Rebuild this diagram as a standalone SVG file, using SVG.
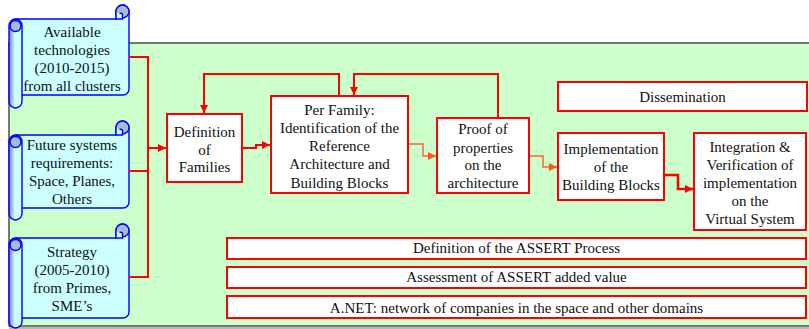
<svg xmlns="http://www.w3.org/2000/svg" width="809" height="329" viewBox="0 0 809 329">
  <defs>
    <linearGradient id="rollShade" x1="0" y1="0" x2="1" y2="0">
      <stop offset="0" stop-color="#7a7ae0"/>
      <stop offset="0.45" stop-color="#ccffff"/>
      <stop offset="1" stop-color="#ccffff"/>
    </linearGradient>
    <marker id="arrowRed" viewBox="0 0 10 10" refX="10" refY="5" markerWidth="9" markerHeight="8" markerUnits="userSpaceOnUse" orient="auto">
      <path d="M0,0 L10,5 L0,10 Z" fill="#ff0000"/>
    </marker>
    <marker id="arrowOrange" viewBox="0 0 10 10" refX="10" refY="5" markerWidth="9" markerHeight="8" markerUnits="userSpaceOnUse" orient="auto">
      <path d="M0,0 L10,5 L0,10 Z" fill="#ff5522"/>
    </marker>
  </defs>
  <style>
    .panel { fill: #ccffcc; stroke: #333333; stroke-width: 1.3; }
    .paper { fill: #ccffff; stroke: #0000ff; stroke-width: 1.4; }
    .roll { fill: url(#rollShade); stroke: #0000ff; stroke-width: 1.4; }
    .curl { fill: #a8bcd0; stroke: #0000ff; stroke-width: 1.4; }
    .box { fill: #ffffff; stroke: #ff0000; stroke-width: 2; }
    .wire { fill: none; stroke: #ff0000; stroke-width: 2; }
    .wire-thick { fill: none; stroke: #ff0000; stroke-width: 2.6; }
    .wire-soft { fill: none; stroke: #ff6633; stroke-width: 1.5; }
    text { font-family: "Liberation Serif", "Times New Roman", serif; font-size: 15px; fill: #111111; text-anchor: middle; }
  </style>

  <rect x="0" y="0" width="809" height="329" fill="#ffffff"/>

  <!-- green working area -->
  <rect class="panel" x="9" y="43" width="820" height="283"/>
  <rect x="9" y="327" width="800" height="2" fill="#b8b8b8"/>

  <!-- input scrolls -->
  <g id="scroll-technologies">
    <path class="paper" d="M15.5,19 H116 V11.5 A6.5,6.5 0 0 1 129,11.5 V89 A6,6 0 0 1 123,95 H15.5 Z"/>
    <circle class="curl" cx="122.5" cy="11.5" r="6.5"/>
    <path class="paper" d="M116,11.5 V19 H122.5 V14 A3,3 0 0 0 119.5,13.5"/>
    <rect class="roll" x="9" y="19" width="13" height="89" rx="6.5"/>
    <circle class="curl" cx="15.5" cy="26" r="5.5"/>
    <text x="72" y="37">Available</text>
    <text x="72" y="55">technologies</text>
    <text x="72" y="73">(2010-2015)</text>
    <text x="72" y="91">from all clusters</text>
  </g>

  <g id="scroll-requirements">
    <path class="paper" d="M15.5,135 H116 V127.5 A6.5,6.5 0 0 1 129,127.5 V202 A6,6 0 0 1 123,208 H15.5 Z"/>
    <circle class="curl" cx="122.5" cy="127.5" r="6.5"/>
    <path class="paper" d="M116,127.5 V135 H122.5 V130 A3,3 0 0 0 119.5,129.5"/>
    <rect class="roll" x="9" y="135" width="13" height="85" rx="6.5"/>
    <circle class="curl" cx="15.5" cy="142" r="5.5"/>
    <text x="72" y="150">Future systems</text>
    <text x="72" y="168">requirements:</text>
    <text x="72" y="186">Space, Planes,</text>
    <text x="72" y="204">Others</text>
  </g>

  <g id="scroll-strategy">
    <path class="paper" d="M15.5,238 H116 V230.5 A6.5,6.5 0 0 1 129,230.5 V312 A6,6 0 0 1 123,318 H15.5 Z"/>
    <circle class="curl" cx="122.5" cy="230.5" r="6.5"/>
    <path class="paper" d="M116,230.5 V238 H122.5 V233 A3,3 0 0 0 119.5,232.5"/>
    <rect class="roll" x="9" y="238" width="13" height="90" rx="6.5"/>
    <circle class="curl" cx="15.5" cy="245" r="5.5"/>
    <text x="72" y="257">Strategy</text>
    <text x="72" y="275">(2005-2010)</text>
    <text x="72" y="293">from Primes,</text>
    <text x="72" y="311">SME’s</text>
  </g>

  <!-- connectors -->
  <g id="connectors">
    <path class="wire" d="M129,57 H148 V277 H129"/>
    <path class="wire" d="M129,171 H148"/>
    <path class="wire" d="M148,148 H166" marker-end="url(#arrowRed)"/>
    <path class="wire" d="M242,148 H256 V145 H270" marker-end="url(#arrowRed)"/>
    <path class="wire" d="M339,96 V74 H204 V113" marker-end="url(#arrowRed)"/>
    <path class="wire" d="M498,118 V74 H354 V95" marker-end="url(#arrowRed)"/>
    <path class="wire-soft" d="M408,144 H423 V156 H436" marker-end="url(#arrowOrange)"/>
    <path class="wire-soft" d="M529,156 H543 V167 H557" marker-end="url(#arrowOrange)"/>
    <path class="wire-thick" d="M664,175 H678 V189 H693" marker-end="url(#arrowRed)"/>
  </g>

  <!-- process steps -->
  <g id="definition-of-families">
    <rect class="box" x="167" y="114" width="75" height="68"/>
    <text x="204.5" y="137">Definition</text>
    <text x="204.5" y="154.5">of</text>
    <text x="204.5" y="172">Families</text>
  </g>

  <g id="per-family">
    <rect class="box" x="271" y="96" width="137" height="97"/>
    <text x="339.5" y="114.5">Per Family:</text>
    <text x="339.5" y="132.8">Identification of the</text>
    <text x="339.5" y="151">Reference</text>
    <text x="339.5" y="169.2">Architecture and</text>
    <text x="339.5" y="187.5">Building Blocks</text>
  </g>

  <g id="proof-of-properties">
    <rect class="box" x="437" y="118" width="92" height="75"/>
    <text x="483" y="134">Proof of</text>
    <text x="483" y="152.5">properties</text>
    <text x="483" y="170">on the</text>
    <text x="483" y="188">architecture</text>
  </g>

  <g id="implementation">
    <rect class="box" x="558" y="133" width="106" height="67"/>
    <text x="611" y="154">Implementation</text>
    <text x="611" y="172">of the</text>
    <text x="611" y="190">Building Blocks</text>
  </g>

  <g id="integration-verification">
    <rect class="box" x="694" y="133" width="112" height="97"/>
    <text x="750" y="152">Integration &amp;</text>
    <text x="750" y="169.5">Verification of</text>
    <text x="750" y="187.5">implementation</text>
    <text x="750" y="206">on the</text>
    <text x="750" y="224">Virtual System</text>
  </g>

  <g id="dissemination">
    <rect class="box" x="558" y="82" width="249" height="29"/>
    <text x="682.5" y="102">Dissemination</text>
  </g>

  <!-- cross-cutting activities -->
  <g id="assert-process">
    <rect class="box" x="227" y="238" width="579" height="21"/>
    <text x="516.5" y="253">Definition of the ASSERT Process</text>
  </g>

  <g id="assert-value">
    <rect class="box" x="227" y="267" width="579" height="21"/>
    <text x="516.5" y="282">Assessment of ASSERT added value</text>
  </g>

  <g id="anet">
    <rect class="box" x="227" y="296" width="579" height="22"/>
    <text x="516.5" y="312.5">A.NET: network of companies in the space and other domains</text>
  </g>
</svg>
